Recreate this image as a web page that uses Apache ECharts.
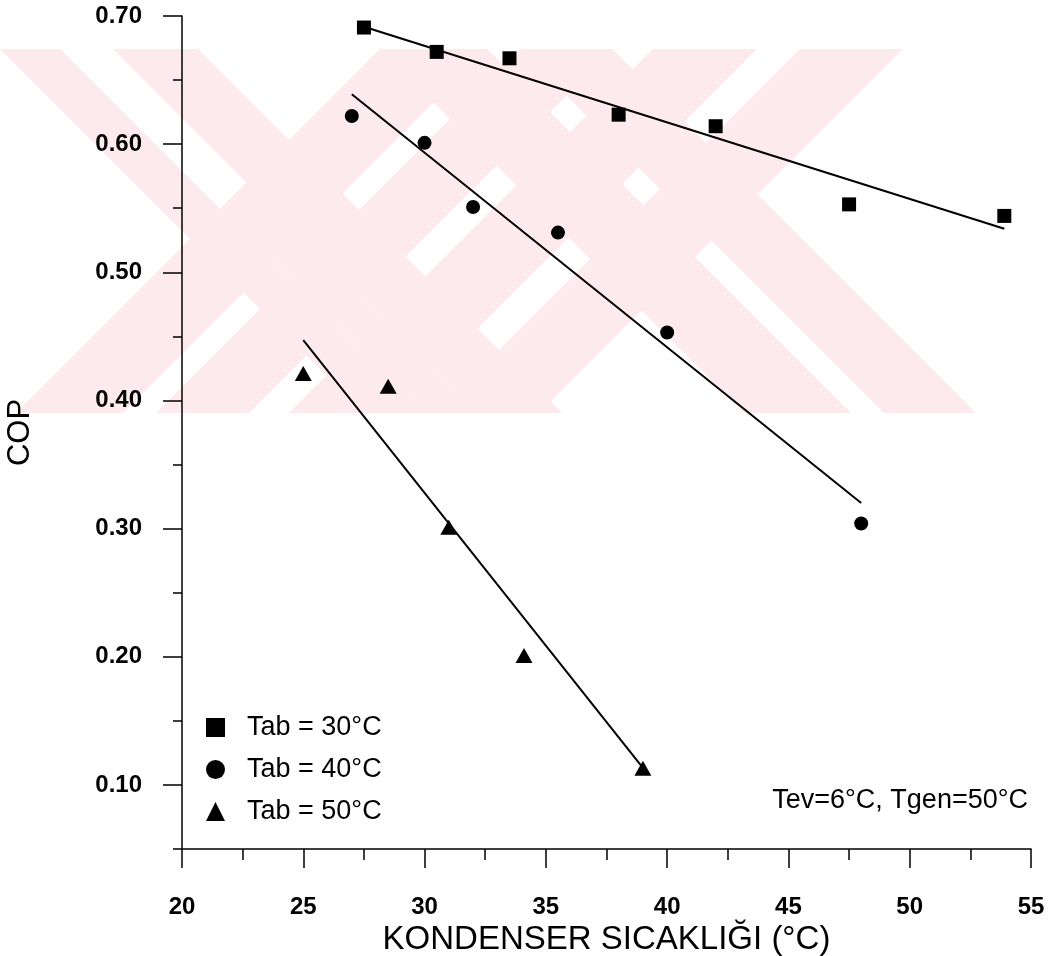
<!DOCTYPE html>
<html>
<head>
<meta charset="utf-8">
<script src="https://cdn.jsdelivr.net/npm/echarts@6/dist/echarts.min.js"></script>
<style>
  html, body { margin: 0; padding: 0; background: #fff; }
  #chart { width: 1062px; height: 956px; }
</style>
</head>
<body>
<div id="chart"></div>
<script>
// data
var seriesNames = ['Tab = 30°C', 'Tab = 40°C', 'Tab = 50°C'];

var tkTab30 = [27.5, 30.5, 33.5, 38.0, 42.0, 47.5, 53.9];
var copTab30 = [0.691, 0.672, 0.667, 0.623, 0.614, 0.553, 0.544];

var tkTab40 = [27.0, 30.0, 32.0, 35.5, 40.0, 48.0];
var copTab40 = [0.622, 0.601, 0.551, 0.531, 0.453, 0.304];

var tkTab50 = [25.0, 28.5, 31.0, 34.1, 39.0];
var copTab50 = [0.421, 0.411, 0.301, 0.201, 0.113];

// fitted straight lines (start / end)
var fitTab30 = [[27.6, 0.691], [53.9, 0.534]];
var fitTab40 = [[27.0, 0.639], [48.0, 0.320]];
var fitTab50 = [[25.0, 0.447], [39.1, 0.111]];

var yLabelValues = [0.1, 0.2, 0.3, 0.4, 0.5, 0.6, 0.7];
var yMinorValues = [0.05, 0.15, 0.25, 0.35, 0.45, 0.55, 0.65];

var note = 'Tev=6°C, Tgen=50°C';

function pairs(xs, ys) {
    return xs.map(function (x, i) { return [x, ys[i]]; });
}

// pale watermark in the background (two crossed double bands)
var wmTop = 49, wmBottom = 413, wmColor = '#fdeaee';
function poly(points) {
    return {type: 'polygon', silent: true, z: -10, shape: {points: points}, style: {fill: wmColor}};
}
function band(a, b, dir) {
    var d = (wmBottom - wmTop) * dir;
    return poly([[a, wmTop], [b, wmTop], [b + d, wmBottom], [a + d, wmBottom]]);
}
var watermark = [
    band(0, 60, 1), band(113, 198, 1), band(380, 487, 1), band(520, 612, 1),
    band(380, 487, -1), band(520, 613, -1), band(653, 757, -1), band(800, 903, -1),
    poly([[220, 209], [247, 182], [477, 413], [424, 413]])
];

var font = '"Liberation Sans", Arial, sans-serif';

var chart = echarts.init(document.getElementById('chart'));
chart.setOption({
    backgroundColor: '#fff',
    animation: false,
    textStyle: {fontFamily: font, color: '#000'},
    grid: {left: 182, right: 31, top: 16, bottom: 107, containLabel: false, outerBoundsMode: 'none'},
    legend: {
        data: seriesNames,
        orient: 'vertical',
        left: 206,
        top: 714,
        padding: 0,
        itemWidth: 19,
        itemHeight: 19,
        itemGap: 15,
        textStyle: {fontSize: 27, color: '#000', fontFamily: font, padding: [0, 0, 0, 17]}
    },
    graphic: watermark.concat([{
        type: 'text',
        right: 34,
        top: 787,
        style: {text: note, fill: '#000', font: '27px ' + font}
    }]),
    xAxis: {
        type: 'value',
        min: 20,
        max: 55,
        interval: 5,
        name: 'KONDENSER SICAKLIĞI (°C)',
        nameLocation: 'middle',
        nameGap: 68,
        nameTextStyle: {fontSize: 33, color: '#000', fontFamily: font},
        axisLine: {lineStyle: {color: '#000', width: 1.5}},
        axisTick: {length: 19, lineStyle: {color: '#000', width: 1.5}},
        minorTick: {show: true, splitNumber: 2, length: 11, lineStyle: {color: '#000', width: 1.5}},
        axisLabel: {fontSize: 24, fontWeight: 'bold', color: '#000', margin: 46},
        splitLine: {show: false}
    },
    yAxis: [{
        type: 'value',
        min: 0.05,
        max: 0.70,
        position: 'left',
        name: 'COP',
        nameLocation: 'middle',
        nameGap: 146,
        nameTextStyle: {fontSize: 31, color: '#000', fontFamily: font},
        axisLine: {show: true, lineStyle: {color: '#000', width: 1.5}},
        axisTick: {show: true, length: 19, customValues: yLabelValues, lineStyle: {color: '#000', width: 1.5}},
        axisLabel: {
            customValues: yLabelValues,
            fontSize: 24,
            fontWeight: 'bold',
            color: '#000',
            margin: 40,
            formatter: function (v) { return v.toFixed(2); }
        },
        splitLine: {show: false}
    }, {
        type: 'value',
        min: 0.05,
        max: 0.70,
        position: 'left',
        axisLine: {show: false},
        axisTick: {show: true, length: 9, customValues: yMinorValues, lineStyle: {color: '#000', width: 1.5}},
        axisLabel: {show: false},
        splitLine: {show: false}
    }],
    series: [{
        name: seriesNames[0],
        type: 'scatter',
        symbol: 'rect',
        symbolSize: 14,
        itemStyle: {color: '#000', opacity: 1},
        data: pairs(tkTab30, copTab30),
        z: 5
    }, {
        name: seriesNames[1],
        type: 'scatter',
        symbol: 'circle',
        symbolSize: 14,
        itemStyle: {color: '#000', opacity: 1},
        data: pairs(tkTab40, copTab40),
        z: 5
    }, {
        name: seriesNames[2],
        type: 'scatter',
        symbol: 'triangle',
        symbolSize: [17, 15],
        itemStyle: {color: '#000', opacity: 1},
        data: pairs(tkTab50, copTab50),
        z: 5
    }, {
        name: 'fit30',
        type: 'line',
        symbol: 'none',
        lineStyle: {color: '#000', width: 2},
        data: fitTab30
    }, {
        name: 'fit40',
        type: 'line',
        symbol: 'none',
        lineStyle: {color: '#000', width: 2},
        data: fitTab40
    }, {
        name: 'fit50',
        type: 'line',
        symbol: 'none',
        lineStyle: {color: '#000', width: 2},
        data: fitTab50
    }]
});
</script>
</body>
</html>
